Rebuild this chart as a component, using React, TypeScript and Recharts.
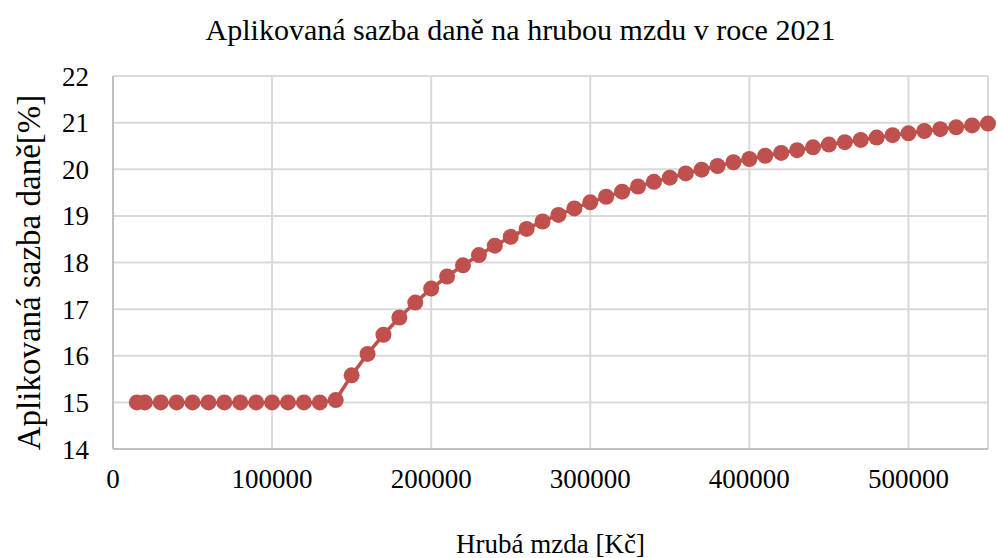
import { LineChart, Line, XAxis, YAxis, CartesianGrid } from "recharts";

const grossWage = [
  15000, 20000, 30000, 40000, 50000, 60000, 70000, 80000, 90000, 100000,
  110000, 120000, 130000, 140000, 150000, 160000, 170000, 180000, 190000, 200000,
  210000, 220000, 230000, 240000, 250000, 260000, 270000, 280000, 290000, 300000,
  310000, 320000, 330000, 340000, 350000, 360000, 370000, 380000, 390000, 400000,
  410000, 420000, 430000, 440000, 450000, 460000, 470000, 480000, 490000, 500000,
  510000, 520000, 530000, 540000, 550000,
];

const taxRate = [
  15, 15, 15, 15, 15, 15, 15, 15, 15, 15,
  15, 15, 15, 15.05, 15.58, 16.04, 16.45, 16.82, 17.14, 17.44,
  17.7, 17.94, 18.16, 18.36, 18.55, 18.72, 18.88, 19.02, 19.16, 19.29,
  19.41, 19.52, 19.63, 19.73, 19.82, 19.91, 19.99, 20.07, 20.15, 20.22,
  20.29, 20.35, 20.41, 20.47, 20.53, 20.58, 20.63, 20.68, 20.73, 20.77,
  20.82, 20.86, 20.9, 20.94, 20.98,
];

const xTicks = [0, 100000, 200000, 300000, 400000, 500000];
const yTicks = [14, 15, 16, 17, 18, 19, 20, 21, 22];

const data = grossWage.map((x, i) => ({ x, rate: taxRate[i] }));

const font = "'Liberation Serif', 'Times New Roman', serif";
const red = "#C0504D";

export default function App() {
  return (
    <div style={{ position: "absolute", left: 0, top: 0, width: 997, height: 558, background: "#fff", fontFamily: font }}>
      <div
        style={{
          position: "absolute",
          top: 15,
          left: 0,
          width: 1041,
          textAlign: "center",
          fontSize: 30,
          lineHeight: "30px",
          color: "#000",
        }}
      >
        Aplikovaná sazba daně na hrubou mzdu v roce 2021
      </div>
      <LineChart width={997} height={558} data={data} margin={{ top: 76, right: 9, bottom: 0, left: 0 }}>
        <CartesianGrid stroke="#D9D9D9" strokeWidth={2} />
        <XAxis
          dataKey="x"
          type="number"
          domain={[0, 550000]}
          ticks={xTicks}
          height={109}
          tickLine={false}
          tickSize={0}
          tickMargin={20}
          axisLine={{ stroke: "#BFBFBF", strokeWidth: 2 }}
          tick={{ fill: "#000", fontSize: 27, fontFamily: font }}
          label={{ value: "Hrubá mzda [Kč]", position: "insideBottom", offset: 5, fill: "#000", fontSize: 27, fontFamily: font }}
        />
        <YAxis
          type="number"
          domain={[14, 22]}
          ticks={yTicks}
          width={113}
          tickLine={false}
          tickSize={0}
          tickMargin={24}
          axisLine={{ stroke: "#BFBFBF", strokeWidth: 2 }}
          tick={{ fill: "#000", fontSize: 27, fontFamily: font }}
          label={{
            value: "Aplikovaná sazba daně[%]",
            angle: -90,
            position: "insideLeft",
            offset: 28,
            dy: 10,
            fill: "#000",
            fontSize: 33,
            fontFamily: font,
            style: { textAnchor: "middle" },
          }}
        />
        <Line
          type="linear"
          dataKey="rate"
          stroke={red}
          strokeWidth={3.5}
          dot={{ r: 8, fill: red, stroke: "none" }}
          activeDot={false}
          isAnimationActive={false}
        />
      </LineChart>
    </div>
  );
}
